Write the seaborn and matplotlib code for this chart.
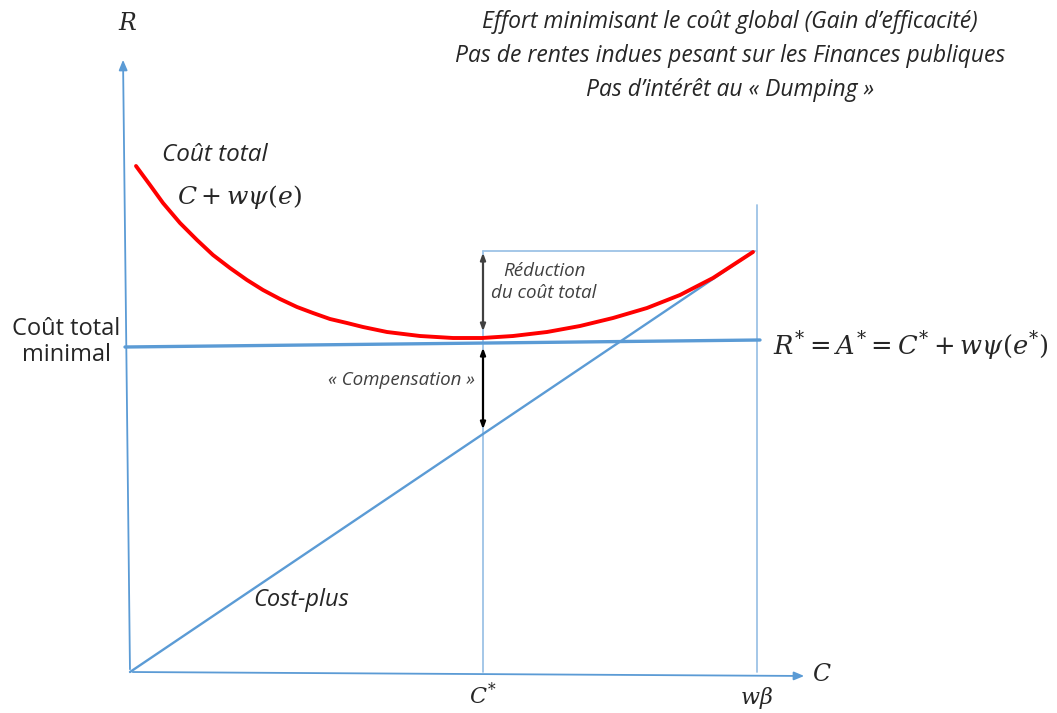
import numpy as np
import pandas as pd
import seaborn as sns
import matplotlib.pyplot as plt

# schematic values (C on x, R on y), origin at the axes corner
c_star = 353
w_beta = 627
r_star = [325, 332]          # horizontal R* line, left / right end
top_cost = 421               # total cost at w*beta

# total cost curve C + w psi(e)
curve_c = [6, 20, 33, 50, 67, 83, 100, 117, 133, 150, 167, 183, 200, 217, 233,
           257, 290, 323, 352, 383, 417, 450, 483, 517, 550, 583, 623]
curve_r = [506, 487, 469, 449, 432, 417, 404, 392, 382, 373, 365, 359, 353, 349, 345,
           340, 336, 334, 334, 336, 340, 346, 354, 364, 377, 394, 420]

# cost-plus line
costplus_c = [0, 623]
costplus_r = [0, 420]

title_lines = ["Effort minimisant le coût global (Gain d\u2019efficacité)",
               "Pas de rentes indues pesant sur les Finances publiques",
               "Pas d\u2019intérêt au « Dumping »"]

blue = "#5B9BD5"
light = "#9DC3E6"

sns.set_style("white")
plt.rcParams['font.family'] = ['Open Sans', 'DejaVu Sans']
plt.rcParams['mathtext.fontset'] = 'dejavuserif'

fig = plt.figure(figsize=(10.57, 7.13), dpi=100)
ax = fig.add_axes([0, 0, 1, 1])
ax.set_xlim(-130, 927)
ax.set_ylim(-41, 672)
ax.axis("off")

# axes with arrow heads
ax.annotate("", xy=(677, -4), xytext=(0, 0),
            arrowprops=dict(arrowstyle="-|>,head_length=0.6,head_width=0.25", color=blue, lw=1.3))
ax.annotate("", xy=(-7, 615), xytext=(0, 0),
            arrowprops=dict(arrowstyle="-|>,head_length=0.6,head_width=0.25", color=blue, lw=1.3))

# guide lines
ax.plot([c_star, c_star], [0, top_cost], color=light, lw=1.3)
ax.plot([w_beta, w_beta], [0, 467], color=light, lw=1.3)
ax.plot([c_star, w_beta], [top_cost, top_cost], color=light, lw=1.3)

# R* line
df_r = pd.DataFrame({"C": [-5, w_beta + 3], "R": r_star})
sns.lineplot(data=df_r, x="C", y="R", ax=ax, color=blue, lw=2.4, sort=False)

# cost-plus
df_cp = pd.DataFrame({"C": costplus_c, "R": costplus_r})
sns.lineplot(data=df_cp, x="C", y="R", ax=ax, color=blue, lw=1.7, sort=False)

# total cost curve
df_ct = pd.DataFrame({"C": curve_c, "R": curve_r})
sns.lineplot(data=df_ct, x="C", y="R", ax=ax, color="#FF0000", lw=2.8, sort=False,
             solid_joinstyle="round", solid_capstyle="round")

# double arrows
ax.annotate("", xy=(c_star, 422), xytext=(c_star, 338),
            arrowprops=dict(arrowstyle="<|-|>,head_length=0.4,head_width=0.15", color="#404040", lw=1.6))
ax.annotate("", xy=(c_star, 327), xytext=(c_star, 240),
            arrowprops=dict(arrowstyle="<|-|>,head_length=0.4,head_width=0.15", color="black", lw=1.6))

# texts
txt = "#262626"
for i, line in enumerate(title_lines):
    ax.text(600, 650 - i * 34, line, ha="center", va="center", fontsize=16.5,
            style="italic", color=txt)

ax.text(-2, 648, "$R$", ha="center", va="center", fontsize=17, color=txt)
ax.text(32, 517, "Coût total", ha="left", va="center", fontsize=17.5, style="italic", color=txt)
ax.text(47, 475, r"$C + w\psi(e)$", ha="left", va="center", fontsize=18, color=txt)
ax.text(-64, 330, "Coût total\nminimal", ha="center", va="center", fontsize=17,
        color=txt, linespacing=1.15)
ax.text(414, 390, "Réduction\ndu coût total", ha="center", va="center", fontsize=13.5,
        style="italic", color="#404040", linespacing=1.3)
ax.text(345, 292, "« Compensation »", ha="right", va="center", fontsize=13.5,
        style="italic", color="#404040")
ax.text(643, 326, r"$R^{*} = A^{*} = C^{*} + w\psi(e^{*})$", ha="left", va="center",
        fontsize=18.5, color=txt)
ax.text(123, 72, "Cost-plus", ha="left", va="center", fontsize=17, style="italic", color=txt)
ax.text(c_star, -24, "$C^{*}$", ha="center", va="center", fontsize=16, color=txt)
ax.text(w_beta, -26, r"$w\beta$", ha="center", va="center", fontsize=16, color=txt)
ax.text(692, -3, "$C$", ha="center", va="center", fontsize=17, color=txt)

fig.savefig("out.png", dpi=100)
